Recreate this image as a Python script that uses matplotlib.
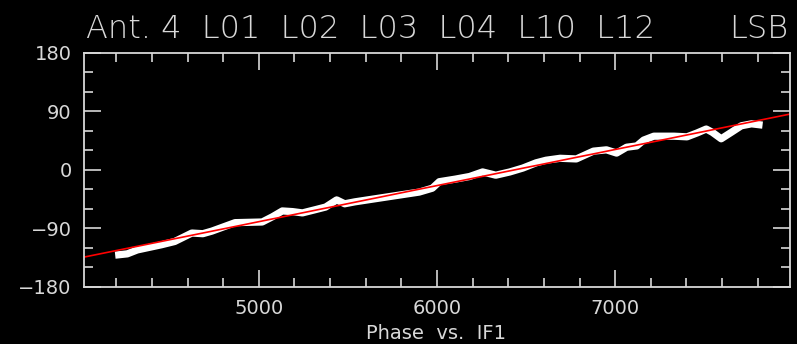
import numpy as np
import matplotlib
matplotlib.use('Agg')
import matplotlib.pyplot as plt
from matplotlib.ticker import MultipleLocator

freq = [4194, 4262, 4318, 4454, 4528, 4624, 4686, 4737, 4827, 4867,
        5019, 5076, 5132, 5189, 5245, 5318, 5375, 5437, 5482, 5539,
        5731, 5900, 5974, 6013, 6104, 6183, 6256, 6330, 6409, 6482,
        6556, 6612, 6691, 6782, 6878, 6951, 7008, 7064, 7121, 7160,
        7217, 7330, 7403, 7460, 7511, 7545, 7595, 7652, 7708, 7765, 7827]
phase = [-131, -129, -123, -115, -110, -97, -98, -94, -85, -81,
         -80, -72, -63, -64, -66, -61, -57, -46, -52, -49,
         -41, -34, -28, -18, -14, -10, -3, -8, -3, 3,
         11, 15, 18, 17, 29, 31, 26, 35, 37, 46,
         52, 52, 51, 57, 63, 58, 48, 58, 68, 71, 69]

# linear fit end points
fit_freq = [4019, 7981]
fit_phase = [-134, 86]

title_left = 'Ant. 4  L01  L02  L03  L04  L10  L12'
title_right = 'LSB'
xlabel = 'Phase  vs.  IF1'

fg = '#d8d8d8'

fig = plt.figure(figsize=(7.97, 3.44), dpi=100, facecolor='black')
ax = fig.add_axes([0.1054, 0.1657, 0.8858, 0.6803], facecolor='black')

ax.plot(freq, phase, color='white', linewidth=5.2, solid_capstyle='butt',
        solid_joinstyle='round')
ax.plot(fit_freq, fit_phase, color='red', linewidth=1.2)

ax.set_xlim(4019, 7981)
ax.set_ylim(-180, 180)

ax.xaxis.set_major_locator(MultipleLocator(1000))
ax.xaxis.set_minor_locator(MultipleLocator(200))
ax.yaxis.set_major_locator(MultipleLocator(90))
ax.yaxis.set_minor_locator(MultipleLocator(30))

ax.tick_params(which='both', direction='in', top=True, right=True,
               color=fg, labelcolor=fg, labelsize=14, width=1.2)
ax.tick_params(which='major', length=12)
ax.tick_params(which='minor', length=6.5)
ax.tick_params(axis='x', which='major', pad=9)
ax.tick_params(axis='y', which='major', pad=9)

for s in ax.spines.values():
    s.set_color(fg)
    s.set_linewidth(1.3)

ax.set_xlabel(xlabel, color=fg, fontsize=14, va='center')
ax.xaxis.set_label_coords(0.4986, -0.199)

fig.text(0.108, 0.89, title_left, color=fg, fontsize=23, ha='left',
         va='baseline', fontweight='light')
fig.text(0.989, 0.89, title_right, color=fg, fontsize=23, ha='right',
         va='baseline', fontweight='light')

fig.savefig('out.png', dpi=100, facecolor='black')
